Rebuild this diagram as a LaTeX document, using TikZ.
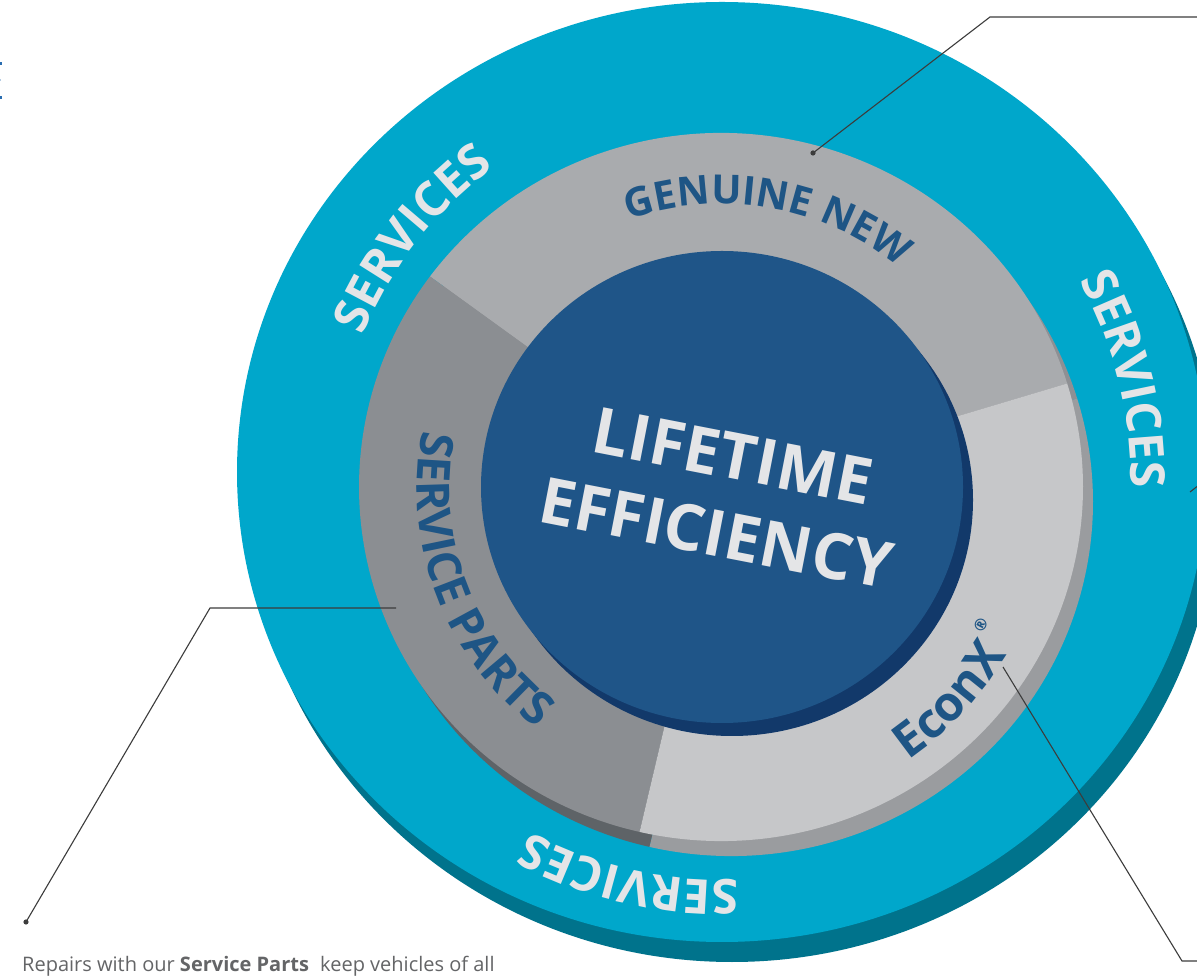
\documentclass[tikz,border=0pt]{standalone}
\usepackage{fontspec}
\setmainfont{Open Sans}
\usetikzlibrary{decorations.text,calc}
\definecolor{cTeal}{HTML}{00A7CB}
\definecolor{cTealSh}{HTML}{00738C}
\definecolor{cGenuine}{HTML}{A9ABAE}
\definecolor{cParts}{HTML}{8B8E92}
\definecolor{cEcon}{HTML}{C6C7C9}
\definecolor{cGenuineSh}{HTML}{8E9094}
\definecolor{cPartsSh}{HTML}{5E6367}
\definecolor{cEconSh}{HTML}{9A9C9F}
\definecolor{cBlue}{HTML}{1F5588}
\definecolor{cBlueSh}{HTML}{12396A}
\definecolor{cTxtBlue}{HTML}{1E5585}
\definecolor{cLight}{HTML}{E4E5E7}
\definecolor{cLine}{HTML}{3C3C3C}
\definecolor{cBody}{HTML}{646567}
\definecolor{cMark}{HTML}{2A6DB0}
\newcommand\grayfmt[1]{\color{cTxtBlue}\fontsize{#1}{#1}\selectfont\bfseries}
\newcommand\svcfmt{\color{cLight}\fontsize{48}{48}\selectfont\bfseries}
\tikzset{
  ctext/.style={font=\fontsize{64}{68}\selectfont\bfseries, text=cLight, inner sep=0pt},
  leader/.style={draw=cLine, line width=1.1pt},
  ldot/.style={fill=cLine},
  curvetext/.style={decorate, decoration={text along path, text align=center, text={#1}}}
}
\begin{document}
\begin{tikzpicture}[x=1pt,y=1pt]
\useasboundingbox (0,0) rectangle (1197,975);
\clip (0,0) rectangle (1197,975);
\fill[white] (0,0) rectangle (1197,975);
\coordinate (oc) at (722,503);
\coordinate (gc) at (721,488);
\coordinate (gcs) at (731,473);
\coordinate (bc) at (722,488);
\coordinate (tc) at (721,495);
% outer teal disc with extrusion
\fill[cTealSh] ($(oc)+(10,-20)$) ellipse[x radius=485, y radius=470];
\fill[cTeal] (oc) ellipse[x radius=485, y radius=470];
% gray ring shadow
\fill[cGenuineSh] (gcs) -- ($(gcs)+(17:362 and 354)$) arc[start angle=17, end angle=143.5, x radius=362, y radius=354] -- cycle;
\fill[cPartsSh] (gcs) -- ($(gcs)+(143.5:362 and 354)$) arc[start angle=143.5, end angle=257, x radius=362, y radius=354] -- cycle;
\fill[cEconSh] (gcs) -- ($(gcs)+(257:362 and 354)$) arc[start angle=257, end angle=377, x radius=362, y radius=354] -- cycle;
% gray ring faces
\fill[cGenuine] (gc) -- ($(gc)+(17:362 and 354)$) arc[start angle=17, end angle=143.5, x radius=362, y radius=354] -- cycle;
\fill[cParts] (gc) -- ($(gc)+(143.5:362 and 354)$) arc[start angle=143.5, end angle=257, x radius=362, y radius=354] -- cycle;
\fill[cEcon] (gc) -- ($(gc)+(257:362 and 354)$) arc[start angle=257, end angle=377, x radius=362, y radius=354] -- cycle;
% blue centre
\fill[cBlueSh] ($(bc)+(10,-13)$) ellipse[x radius=241, y radius=236];
\fill[cBlue] (bc) ellipse[x radius=241, y radius=236];
% curved labels on gray ring
\path[curvetext={|\grayfmt{40}|GENUINE NEW}] ($(gc)+(135:283)$) arc[start angle=135, end angle=25, radius=283];
\path[curvetext={|\grayfmt{46}|SERVICE PARTS}] ($(gc)+(150:304)$) arc[start angle=150, end angle=252, radius=304];
\path[curvetext={|\grayfmt{48}|EconX}] ($(gc)+(-86:331)$) arc[start angle=-86, end angle=0, radius=331];
\node[text=cTxtBlue, font=\fontsize{16}{16}\selectfont\bfseries, rotate=62, inner sep=0pt] (reg) at ($(gc)+(-28:294)$) {®};
% SERVICES labels
\path[curvetext={|\svcfmt|SERVICES}] ($(tc)+(182:386)$) arc[start angle=182, end angle=102, radius=386];
\path[curvetext={|\svcfmt|SERVICES}] ($(tc)+(54:410)$) arc[start angle=54, end angle=-26, radius=410];
\path[curvetext={|\svcfmt|SERVICES}] ($(tc)+(-63:400)$) arc[start angle=-63, end angle=-143, radius=400];
% centre text
\node[ctext, rotate=-11] (lt) at (733,519) {LIFETIME};
\node[ctext, rotate=-11] (ef) at (716,442) {EFFICIENCY};
% leader lines
\coordinate (gnDot) at (813,822);
\coordinate (gnBend) at (990,958);
\coordinate (gnEnd) at (1197,958);
\draw[leader] (gnDot) -- (gnBend) -- (gnEnd);
\fill[ldot] (gnDot) circle[radius=2.6];
\coordinate (svStart) at (1190,483);
\coordinate (svEnd) at (1199,490);
\draw[leader] (svStart) -- (svEnd);
\coordinate (exStart) at (1003,308);
\coordinate (exBend) at (1182,14);
\coordinate (exEnd) at (1197,14);
\draw[leader] (exStart) -- (exBend) -- (exEnd);
\coordinate (spStart) at (396,367);
\coordinate (spBend) at (210,367);
\coordinate (spDot) at (26,53);
\draw[leader] (spStart) -- (spBend) -- (spDot);
\fill[ldot] (spDot) circle[radius=2.6];
% cropped marks at top-left edge
\fill[cMark] (0,910) rectangle (1.6,913);
\fill[cMark!35] (0,894) rectangle (1.2,896);
\fill[cMark] (0,876) rectangle (1.6,879);
% body text
\node[anchor=base west, font=\fontsize{20}{22}\selectfont, text=cBody, inner sep=0pt] (body) at (22,4) {Repairs with our \textbf{Service Parts}\hspace{6pt} keep vehicles of all};
\end{tikzpicture}
\end{document}
